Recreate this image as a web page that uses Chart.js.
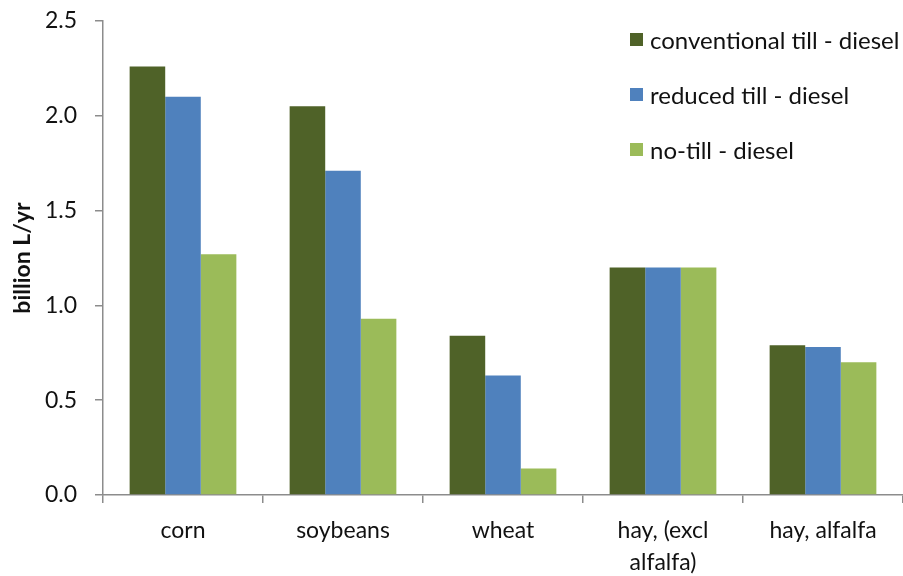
<!DOCTYPE html>
<html lang="en">
<head>
    <meta charset="UTF-8">
    <title>Diesel use by tillage</title>
    <style>
        body {
            margin: 0;
            background: #fff;
        }
        #wrap {
            width: 903px;
            height: 576px;
        }
    </style>
    <script src="https://cdn.jsdelivr.net/npm/chart.js"></script>
</head>
<body>
    <div id="wrap">
        <canvas id="barChart" width="903" height="576"></canvas>
    </div>

    <script>
        // data
        const categories = ['corn', 'soybeans', 'wheat', ['hay, (excl', 'alfalfa)'], 'hay, alfalfa'];
        const seriesNames = ['conventional till - diesel', 'reduced till - diesel', 'no-till - diesel'];
        const conventional = [2.26, 2.05, 0.84, 1.20, 0.79];
        const reduced = [2.10, 1.71, 0.63, 1.20, 0.78];
        const noTill = [1.27, 0.93, 0.14, 1.20, 0.70];
        const yTicks = [0, 0.5, 1.0, 1.5, 2.0, 2.5];

        const colors = ['#4F6228', '#4F81BD', '#9BBB59'];
        const axisColor = '#8c8c8c';
        const fontFamily = 'Lato, "Open Sans", sans-serif';

        // legend drawn over the plot, top right
        const legendPlugin = {
            id: 'cornerLegend',
            afterDraw(chart) {
                const ctx = chart.ctx;
                ctx.save();
                ctx.font = '24px ' + fontFamily;
                ctx.textBaseline = 'middle';
                chart.data.datasets.forEach((ds, i) => {
                    const y = 40 + i * 55;
                    ctx.fillStyle = ds.backgroundColor;
                    ctx.fillRect(630, y - 7, 13, 13);
                    ctx.fillStyle = '#111';
                    ctx.fillText(ds.label, 650, y + 1);
                });
                ctx.restore();
            }
        };

        const ctx = document.getElementById('barChart').getContext('2d');
        new Chart(ctx, {
            type: 'bar',
            data: {
                labels: categories,
                datasets: [
                    { label: seriesNames[0], data: conventional, backgroundColor: colors[0] },
                    { label: seriesNames[1], data: reduced, backgroundColor: colors[1] },
                    { label: seriesNames[2], data: noTill, backgroundColor: colors[2] }
                ]
            },
            options: {
                responsive: false,
                animation: false,
                layout: {
                    padding: { top: 21, right: 0, bottom: 0, left: 0 }
                },
                datasets: {
                    bar: {
                        categoryPercentage: 0.667,
                        barPercentage: 1.0,
                        borderWidth: 0
                    }
                },
                plugins: {
                    legend: { display: false },
                    tooltip: { enabled: false }
                },
                scales: {
                    x: {
                        offset: true,
                        grid: {
                            offset: true,
                            drawOnChartArea: false,
                            tickLength: 8,
                            color: axisColor,
                            lineWidth: 1.5
                        },
                        border: { color: axisColor, width: 1.5 },
                        ticks: {
                            color: '#111',
                            padding: 11,
                            maxRotation: 0,
                            autoSkip: false,
                            font: { family: fontFamily, size: 23, lineHeight: 1.42 }
                        },
                        afterFit(scale) {
                            scale.height = 81;
                        }
                    },
                    y: {
                        min: 0,
                        max: 2.5,
                        afterBuildTicks(scale) {
                            scale.ticks = yTicks.map(v => ({ value: v }));
                        },
                        grid: {
                            drawOnChartArea: false,
                            tickLength: 8,
                            color: axisColor,
                            lineWidth: 1.5
                        },
                        border: { color: axisColor, width: 1.5 },
                        ticks: {
                            color: '#111',
                            padding: 18,
                            font: { family: fontFamily, size: 23 },
                            callback: function(value) {
                                return Number(value).toFixed(1);
                            }
                        },
                        title: {
                            display: true,
                            text: 'billion L/yr',
                            color: '#111',
                            padding: { top: 9, bottom: 0 },
                            font: { family: fontFamily, size: 23, weight: 'bold' }
                        },
                        afterFit(scale) {
                            scale.width = 103;
                            // keep the label padding from pushing the plot top down
                            scale.paddingTop = 0;
                            scale.paddingBottom = 0;
                        }
                    }
                }
            },
            plugins: [legendPlugin]
        });
    </script>
</body>
</html>
